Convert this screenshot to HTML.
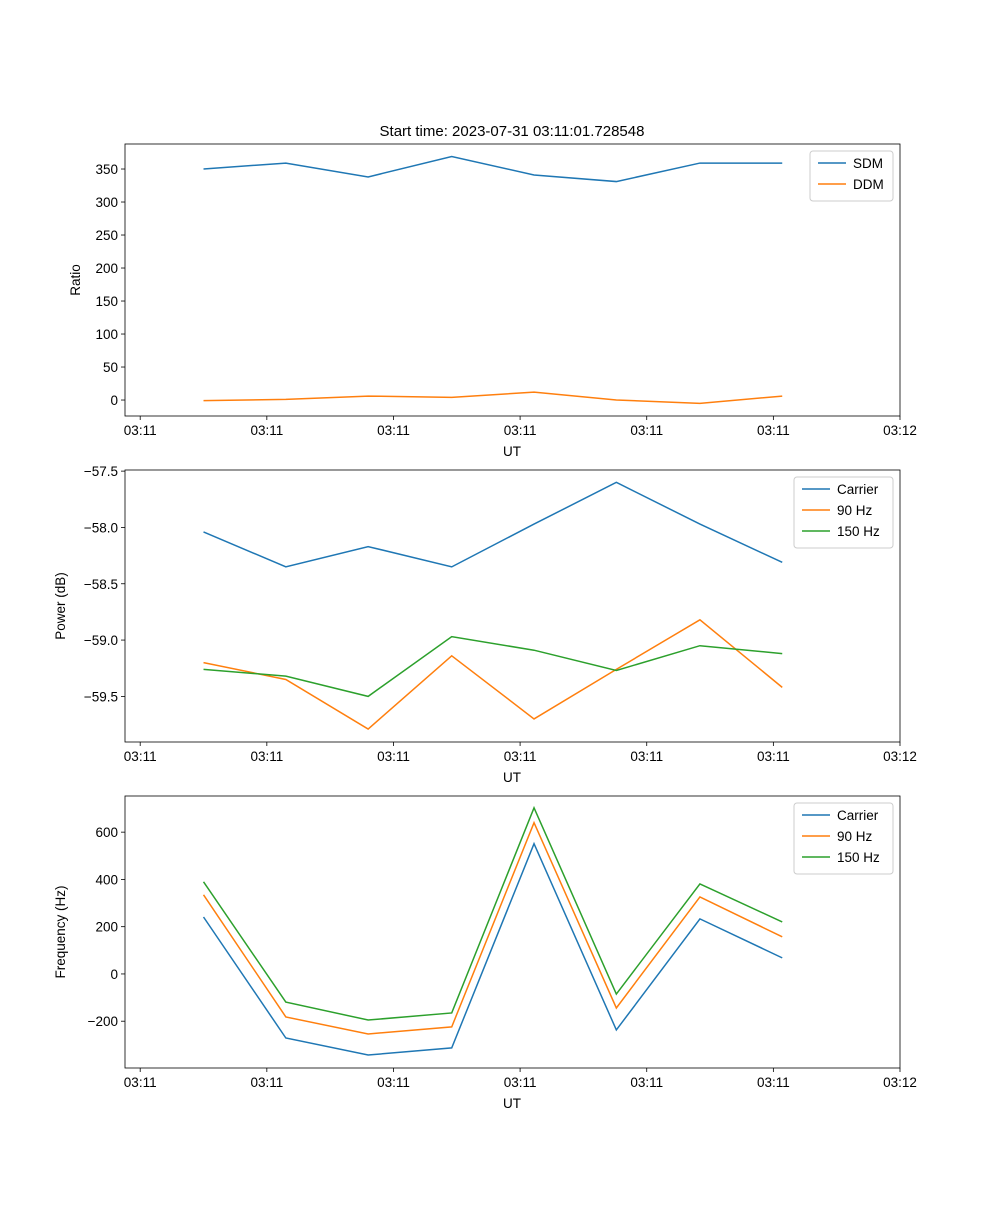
<!DOCTYPE html>
<html><head><meta charset="utf-8"><style>
body{margin:0;background:#fff}
svg text{font-family:"Liberation Sans","DejaVu Sans",sans-serif;font-size:13.5px;fill:#000}
</style></head><body>
<svg id="fig" width="1000" height="1200" viewBox="0 0 1000 1200" xmlns="http://www.w3.org/2000/svg">
<rect width="1000" height="1200" fill="#fff"/>
<text x="512" y="136" text-anchor="middle" style="font-size:15px">Start time: 2023-07-31 03:11:01.728548</text>
</svg>
<script>
const times = [5.0, 11.5, 18.0, 24.6, 31.1, 37.6, 44.2, 50.7];
const xTickLabels = ["03:11","03:11","03:11","03:11","03:11","03:11","03:12"];
const xTickValues = [0, 10, 20, 30, 40, 50, 60];
const sdm = [350, 359, 338, 369, 341, 331, 359, 359];
const ddm = [-1, 1, 6, 4, 12, 0, -5, 6];
const powCarrier = [-58.04, -58.35, -58.17, -58.35, -57.97, -57.60, -57.97, -58.31];
const pow90 = [-59.20, -59.35, -59.79, -59.14, -59.70, -59.26, -58.82, -59.42];
const pow150 = [-59.26, -59.32, -59.50, -58.97, -59.09, -59.27, -59.05, -59.12];
const freqCarrier = [241, -271, -343, -313, 551, -237, 233, 68];
const freq90 = [335, -182, -254, -224, 640, -144, 326, 157];
const freq150 = [390, -119, -195, -165, 703, -85, 381, 220];
const ratioTicks = [0, 50, 100, 150, 200, 250, 300, 350];
const powerTicks = [-57.5, -58.0, -58.5, -59.0, -59.5];
const freqTicks = [-200, 0, 200, 400, 600];

const NS = "http://www.w3.org/2000/svg";
const svg = document.getElementById('fig');
const C = ["#1f77b4", "#ff7f0e", "#2ca02c"];
function el(tag, attrs, parent) {
  const e = document.createElementNS(NS, tag);
  for (const k in attrs) e.setAttribute(k, attrs[k]);
  (parent || svg).appendChild(e);
  return e;
}
const L = 125, R = 900, xmin = -1.2, xmax = 60;
function xs(t) { return L + (t - xmin) / (xmax - xmin) * (R - L); }

function panel(name, top, ymin, ymax, yTicks, fmt, ylabel, series, names, legW) {
  const bot = top + 272;
  const ys = v => bot - (v - ymin) / (ymax - ymin) * 272;
  const g = el('g', {});
  
  
  // ticks
  xTickValues.forEach((v, i) => {
    const x = xs(v);
    el('line', {x1: x, x2: x, y1: bot, y2: bot + 4, stroke: '#000', 'stroke-width': 0.8}, g);
    const t = el('text', {x: x, y: bot + 19, 'text-anchor': 'middle'}, g);
    t.textContent = xTickLabels[i];
    
    
  });
  yTicks.forEach(v => {
    const y = ys(v);
    el('line', {x1: L - 4, x2: L, y1: y, y2: y, stroke: '#000', 'stroke-width': 0.8}, g);
    const t = el('text', {x: L - 7, y: y + 5, 'text-anchor': 'end'}, g);
    t.textContent = fmt(v);
    
    
  });
  const xl = el('text', {x: 512, y: bot + 40, 'text-anchor': 'middle'}, g);
  xl.textContent = 'UT';
  
  
  const yl = el('text', {x: 0, y: 0, 'text-anchor': 'middle', transform: `translate(${name==='ratio'?80:65},${top+136}) rotate(-90)`}, g);
  yl.textContent = ylabel;
  
  
  series.forEach((s, i) => {
    const p = el('polyline', {points: s.map((v, j) => xs(times[j]) + ',' + ys(v)).join(' '), fill: 'none', stroke: C[i], 'stroke-width': 1.5}, g);
    
    
  });
  el('rect', {x: L, y: top, width: R - L, height: 272, fill: 'none', stroke: '#000', 'stroke-width': 0.8}, g);
  // legend
  const lw = legW, lh = 8 + names.length * 21;
  const lg = el('g', {}, g);
  
  
  el('rect', {x: R - 7 - lw, y: top + 7, width: lw, height: lh, rx: 3, fill: '#fff', stroke: '#ccc', 'stroke-width': 1}, lg);
  names.forEach((n, i) => {
    const y = top + 19 + i * 21;
    el('line', {x1: R - lw + 1, x2: R - lw + 29, y1: y, y2: y, stroke: C[i], 'stroke-width': 1.5}, lg);
    const t = el('text', {x: R - lw + 36, y: y + 5}, lg);
    t.textContent = n;
    
    
  });
}
const minus = s => String(s).replace('-', '\u2212');
panel('ratio', 144, -24.2, 387.9, ratioTicks, v => minus(v), 'Ratio', [sdm, ddm], ['SDM', 'DDM'], 83);
panel('power', 470, -59.905, -57.49, powerTicks, v => minus(v.toFixed(1)), 'Power (dB)', [powCarrier, pow90, pow150], ['Carrier', '90 Hz', '150 Hz'], 99);
panel('frequency', 796, -398, 753, freqTicks, v => minus(v), 'Frequency (Hz)', [freqCarrier, freq90, freq150], ['Carrier', '90 Hz', '150 Hz'], 99);
</script>
</body></html>
